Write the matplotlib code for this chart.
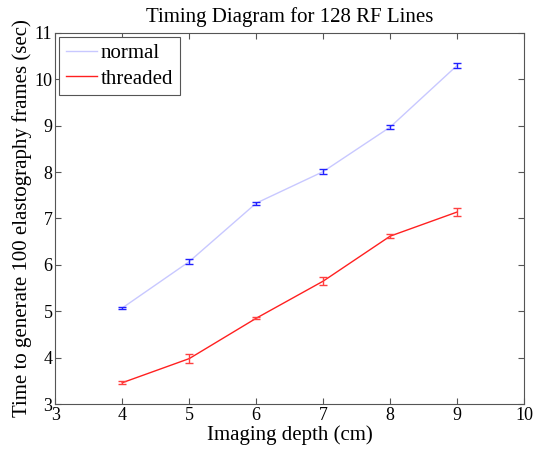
import numpy as np
import matplotlib
matplotlib.use('Agg')
import matplotlib.pyplot as plt

plt.rcParams['font.family'] = ['Liberation Serif', 'DejaVu Serif']

depth = [4, 5, 6, 7, 8, 9]
normal = [5.07, 6.07, 7.33, 8.01, 8.97, 10.30]
normal_err = [0.03, 0.05, 0.03, 0.05, 0.04, 0.05]
threaded = [3.46, 3.98, 4.85, 5.65, 6.62, 7.14]
threaded_err = [0.03, 0.10, 0.02, 0.08, 0.04, 0.09]

fig = plt.figure(figsize=(5.41, 4.5), dpi=100)
ax = fig.add_axes([0.102, 0.102, 0.867, 0.825])

# lines first, error bars drawn separately so they get a stronger colour
ax.plot(depth, normal, color='#c8c8ff', lw=1.0, label='normal')
ax.plot(depth, threaded, color='#ff2020', lw=1.0, label='threaded')
ax.errorbar(depth, normal, yerr=normal_err, fmt='none', ecolor='#2020ff',
            elinewidth=1.0, capsize=3, capthick=1.0)
ax.errorbar(depth, threaded, yerr=threaded_err, fmt='none', ecolor='#ff4040',
            elinewidth=1.0, capsize=3, capthick=1.0)

ax.set_xlim(3, 10)
ax.set_ylim(3, 11)
ax.set_xticks(range(3, 11))
ax.set_yticks(range(3, 12))
ax.tick_params(direction='in', top=True, right=True, labelsize=13, length=4,
               color='#555555', pad=2)
for s in ax.spines.values():
    s.set_color('#555555')
    s.set_linewidth(0.8)

ax.set_title('Timing Diagram for 128 RF Lines', fontsize=15, pad=8)
ax.set_xlabel('Imaging depth (cm)', fontsize=15, labelpad=1)
ax.set_ylabel('Time to generate 100 elastography frames (sec)', fontsize=15, labelpad=2)

leg = ax.legend(loc='upper left', fontsize=15, fancybox=False, framealpha=1,
                edgecolor='#555555', borderaxespad=0.2, handlelength=1.5,
                handletextpad=0.2, borderpad=0.3, labelspacing=0.3)
leg.get_frame().set_linewidth(0.8)

fig.savefig('out.png', dpi=100)
